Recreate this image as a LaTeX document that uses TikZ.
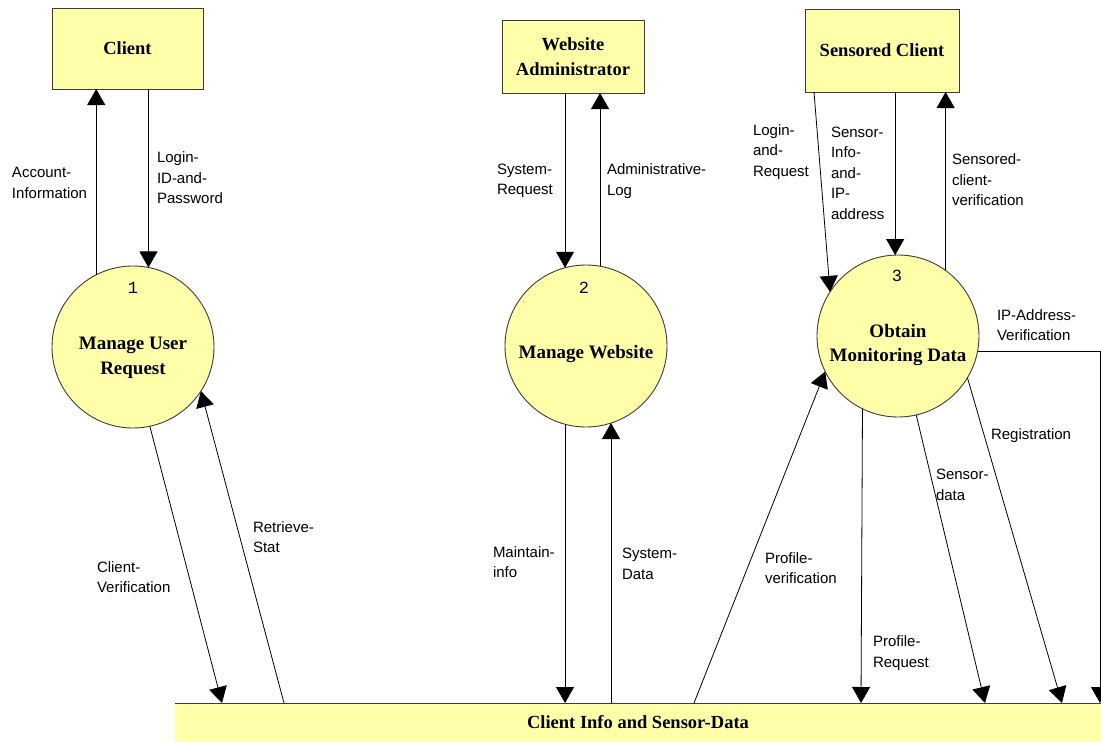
\documentclass[tikz,border=0pt]{standalone}
\usepackage{fontspec}
\setmainfont{Liberation Serif}
\setsansfont{Liberation Sans}
\newfontfamily\numfont{Liberation Mono}
\usetikzlibrary{arrows.meta}
\definecolor{dfdyellow}{RGB}{255,255,170}
\definecolor{edgegray}{RGB}{60,60,60}
\begin{document}
\begin{tikzpicture}[x=1pt,y=-1pt,
  every node/.style={inner sep=0pt, outer sep=0pt},
  entity/.style={draw=edgegray, fill=dfdyellow, line width=0.9pt, font=\fontsize{18.5}{24.5}\selectfont\bfseries, align=center},
  process/.style={circle, draw=edgegray, fill=dfdyellow, line width=0.9pt, minimum size=162pt},
  ptext/.style={font=\fontsize{19}{24.5}\selectfont\bfseries, align=center},
  pnum/.style={font=\numfont\fontsize{17}{20}\selectfont},
  flowlabel/.style={font=\sffamily\fontsize{15}{20.5}\selectfont, align=left, anchor=west},
  flow/.style={line width=0.8pt, -{Triangle[width=18pt,length=16pt]}}
]
\useasboundingbox (0,0) rectangle (1101,742);

% external entities
\node[entity, minimum width=151pt, minimum height=81pt] (client) at (127.5,48.5) {Client};
\node[entity, minimum width=142pt, minimum height=73pt] (website) at (573,56.5) {Website\\Administrator};
\node[entity, minimum width=154pt, minimum height=83pt] (sensored) at (882,50.5) {Sensored Client};

% processes
\node[process] (c1) at (133,347) {};
\node[process] (c2) at (586,346) {};
\node[process] (c3) at (898,336) {};
\node[pnum] (n1) at (133,288) {1};
\node[pnum] (n2) at (584,288) {2};
\node[pnum] (n3) at (897,276) {3};
\node[ptext] (t1) at (133,358) {Manage User\\Request};
\node[ptext] (t2) at (586,354) {Manage Website};
\node[ptext] (t3) at (898,345) {Obtain\\Monitoring Data};

% data store
\node[fill=dfdyellow, minimum width=926pt, minimum height=39pt, font=\fontsize{18.5}{24}\selectfont\bfseries] (store) at (638,722.5) {Client Info and Sensor-Data};
\draw[line width=0.9pt, edgegray] (store.north west) -- (store.north east);

% flows of process 1
\draw[flow] (c1.117.2) -- (c1.117.2 |- client.south);
\draw[flow] (client.south -| c1.79.3) -- (c1.79.3);
\draw[flow] (c1.282.3) -- ([xshift=47pt]store.north west);
\draw[flow] ([xshift=109pt]store.north west) -- (c1.-33.9);

% flows of process 2
\draw[flow] (website.south -| c2.105.8) -- (c2.105.8);
\draw[flow] (c2.80.05) -- (c2.80.05 |- website.south);
\draw[flow] (c2.255) -- (c2.255 |- store.north);
\draw[flow] (c2.288 |- store.north) -- (c2.288);

% flows of process 3
\draw[flow] ([xshift=9pt]sensored.south west) -- (c3.147.5);
\draw[flow] (sensored.south -| c3.92.8) -- (c3.92.8);
\draw[flow] (c3.54.5) -- (c3.54.5 |- sensored.south);
\draw[flow] (c3.-11.4) -| ([xshift=925pt]store.north west);
\draw[flow] ([xshift=519pt]store.north west) -- (c3.206.9);
\draw[flow] (c3.244.4) -- ([xshift=686pt]store.north west);
\draw[flow] (c3.283.2) -- ([xshift=810pt]store.north west);
\draw[flow] (c3.329) -- ([xshift=887pt]store.north west);

% labels
\node[flowlabel] (l1) at (12,183) {Account-\\Information};
\node[flowlabel] (l2) at (157,178) {Login-\\ID-and-\\Password};
\node[flowlabel] (l3) at (97,577) {Client-\\Verification};
\node[flowlabel] (l4) at (253,537) {Retrieve-\\Stat};
\node[flowlabel] (l5) at (497,181) {System-\\Request};
\node[flowlabel] (l6) at (607,181) {Administrative-\\Log};
\node[flowlabel] (l7) at (493,562) {Maintain-\\info};
\node[flowlabel] (l8) at (622,564) {System-\\Data};
\node[flowlabel] (l9) at (753,152) {Login-\\and-\\Request};
\node[flowlabel] (l10) at (831,173) {Sensor-\\Info-\\and-\\IP-\\address};
\node[flowlabel] (l11) at (952,180) {Sensored-\\client-\\verification};
\node[flowlabel] (l12) at (997,325) {IP-Address-\\Verification};
\node[flowlabel] (l13) at (765,568) {Profile-\\verification};
\node[flowlabel] (l14) at (873,653) {Profile-\\Request};
\node[flowlabel] (l15) at (936,485) {Sensor-\\data};
\node[flowlabel] (l16) at (991,436) {Registration};
\end{tikzpicture}
\end{document}
